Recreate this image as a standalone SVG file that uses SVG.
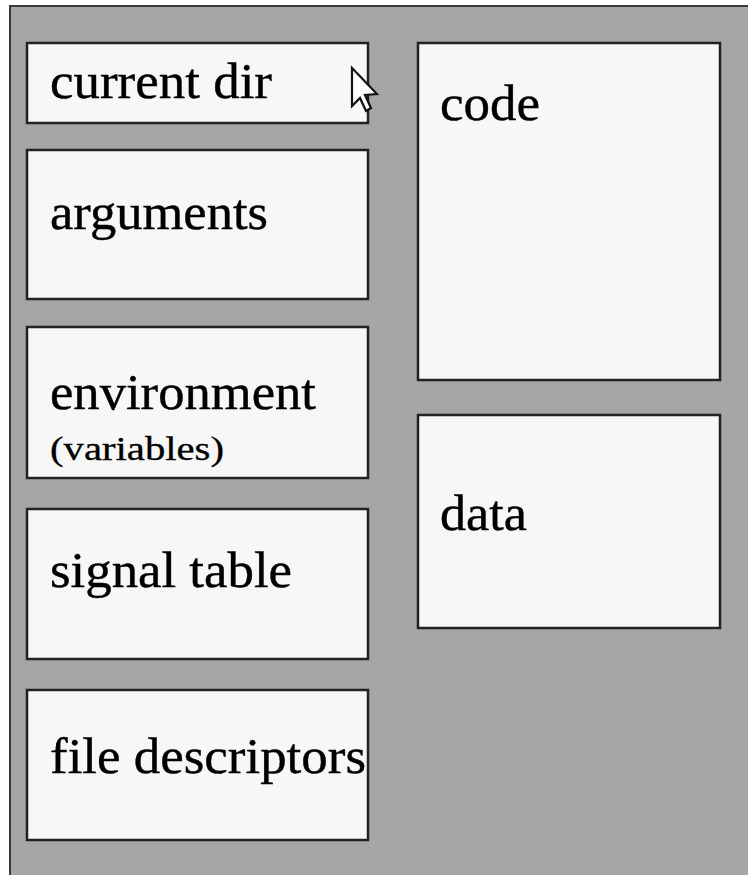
<svg xmlns="http://www.w3.org/2000/svg" width="748" height="875" viewBox="0 0 748 875">
  <style>
    .frame { fill: #a6a6a6; stroke: #3a3a3a; stroke-width: 2; }
    .box { fill: #f7f7f7; stroke: #222222; stroke-width: 2.5; }
    text { font-family: 'Liberation Serif', 'Times New Roman', Times, serif; fill: #000000; stroke: #000000; stroke-width: 0.4; }
    .lbl { font-size: 50px; }
    .sub { font-size: 34px; stroke-width: 0.3; }
    .cursor { fill: #ffffff; stroke: #111111; stroke-width: 2.2; stroke-linejoin: miter; }
  </style>
  <rect width="748" height="875" fill="#ffffff"/>
  <rect class="frame" x="10" y="6" width="750" height="880"/>

  <g id="current-dir">
    <rect class="box" x="27" y="43" width="341" height="80"/>
    <text class="lbl" x="50" y="98" textLength="222" lengthAdjust="spacingAndGlyphs">current dir</text>
  </g>
  <g id="arguments">
    <rect class="box" x="27" y="150" width="341" height="149"/>
    <text class="lbl" x="50" y="229" textLength="218" lengthAdjust="spacingAndGlyphs">arguments</text>
  </g>
  <g id="environment">
    <rect class="box" x="27" y="327" width="341" height="151"/>
    <text class="lbl" x="50" y="409" textLength="266" lengthAdjust="spacingAndGlyphs">environment</text>
    <text class="sub" x="50" y="460" textLength="174" lengthAdjust="spacingAndGlyphs">(variables)</text>
  </g>
  <g id="signal-table">
    <rect class="box" x="27" y="509" width="341" height="150"/>
    <text class="lbl" x="50" y="587" textLength="242" lengthAdjust="spacingAndGlyphs">signal table</text>
  </g>
  <g id="file-descriptors">
    <rect class="box" x="27" y="690" width="341" height="150"/>
    <text class="lbl" x="50" y="773" textLength="316" lengthAdjust="spacingAndGlyphs">file descriptors</text>
  </g>
  <g id="code">
    <rect class="box" x="418" y="43" width="302" height="337"/>
    <text class="lbl" x="440" y="120" textLength="100" lengthAdjust="spacingAndGlyphs">code</text>
  </g>
  <g id="data">
    <rect class="box" x="418" y="415" width="302" height="213"/>
    <text class="lbl" x="440" y="530" textLength="87" lengthAdjust="spacingAndGlyphs">data</text>
  </g>

  <g id="connectors"></g>

  <!-- mouse pointer -->
  <polygon class="cursor" points="352,68 352,106 360,98 366,111 371,108 365,95 377,94"/>
</svg>
